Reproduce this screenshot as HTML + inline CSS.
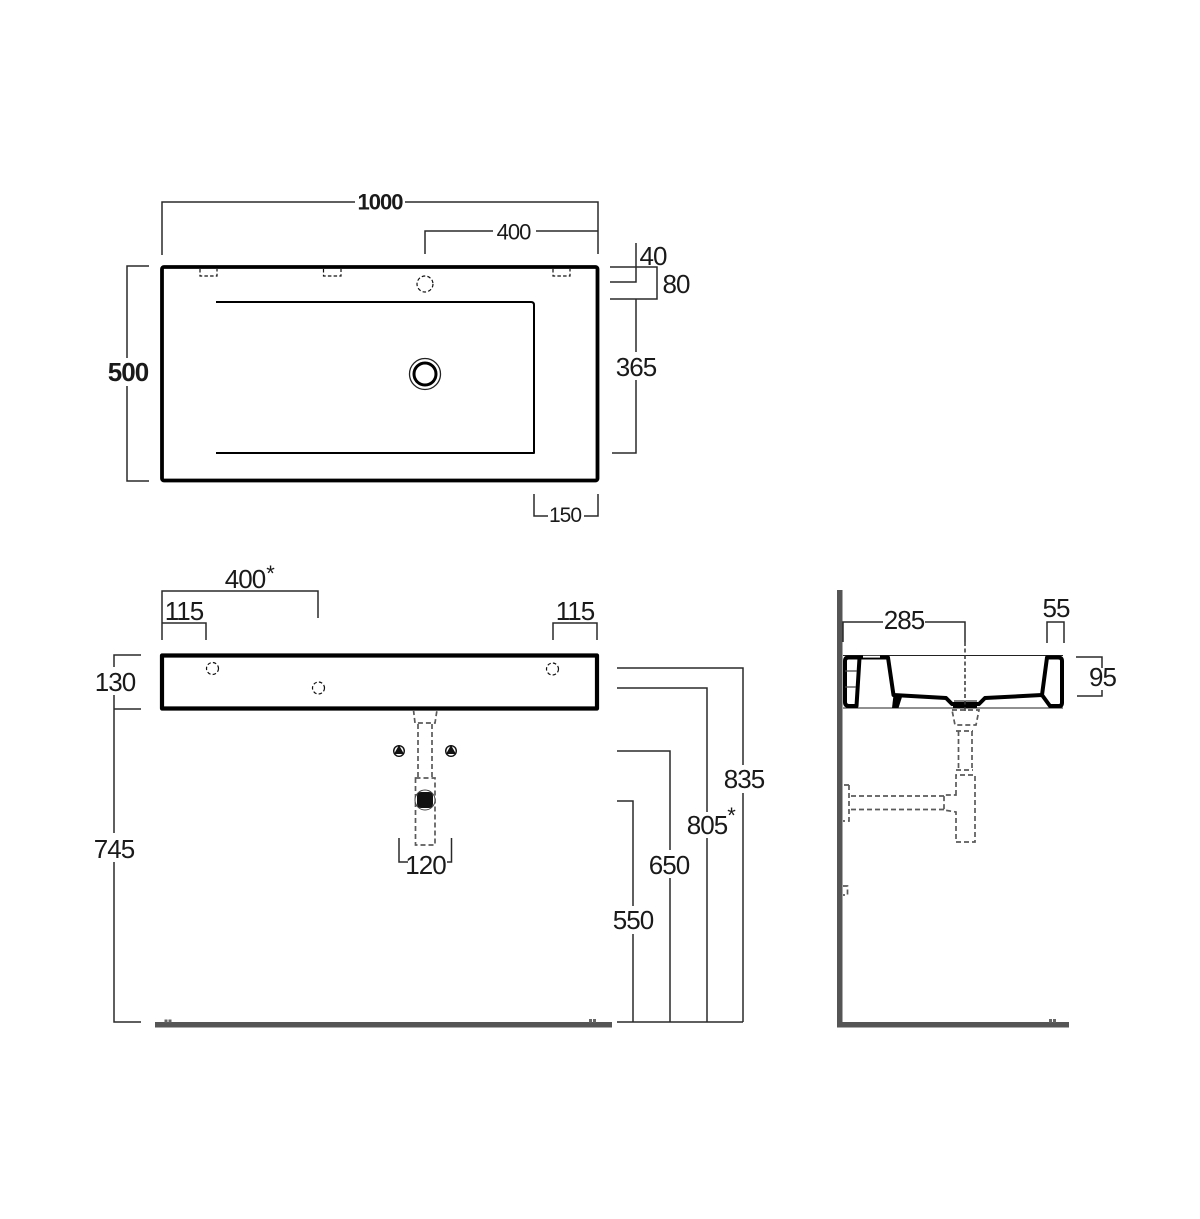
<!DOCTYPE html>
<html>
<head>
<meta charset="utf-8">
<style>
html,body{margin:0;padding:0;background:#fff}
svg{display:block}
text{font-family:"Liberation Sans",sans-serif;fill:#1a1a1a;text-anchor:middle;letter-spacing:-1px}
.d{stroke:#2a2a2a;stroke-width:1.500;fill:none}
.t{stroke:#000;fill:none;stroke-linejoin:round}
.g{stroke:#5a5a5a;stroke-width:1.700;fill:none;stroke-dasharray:5 3}
.k{stroke:#111;stroke-width:1.200;fill:none;stroke-dasharray:3.500 2.200}
</style>
</head>
<body>
<svg width="1200" height="1219" viewBox="0 0 1200 1219" xmlns="http://www.w3.org/2000/svg">
<rect width="1200" height="1219" fill="#fff"/>

<!-- TOP VIEW -->
<rect class="t" x="162" y="267" width="435.500" height="213.500" rx="2" stroke-width="3.800"/>
<path class="t" stroke-width="2" d="M216 302H531Q534 302 534 305V453H216"/>
<circle cx="425" cy="374" r="15.500" fill="none" stroke="#222" stroke-width="1.300"/>
<circle cx="425" cy="374" r="11" fill="none" stroke="#000" stroke-width="3"/>
<circle class="k" cx="425" cy="284" r="8"/>
<path class="k" d="M200 269V276H217V269"/>
<path class="k" d="M323.500 269V276H341V269"/>
<path class="k" d="M553 269V276H570V269"/>

<path class="d" d="M162 255V202H355M405 202H598V254"/>
<path class="d" d="M425 254V231H493M536 231H598"/>
<path class="d" d="M149 266H127V358M127 386V481H149"/>
<path class="d" d="M636 243V282H610M610 267H657V299H610M636 299V352M636 380V453H612"/>
<path class="d" d="M534 494V516H548M584 516H598V494"/>

<text x="380" y="209.500" font-size="22" font-weight="bold">1000</text>
<text x="513.500" y="239.500" font-size="22">400</text>
<text x="128" y="381" font-size="26" font-weight="bold">500</text>
<text x="653" y="265" font-size="26">40</text>
<text x="676" y="293" font-size="26">80</text>
<text x="636" y="376" font-size="26">365</text>
<text x="565" y="522" font-size="21">150</text>

<!-- FRONT VIEW -->
<rect class="t" x="162" y="655.500" width="435" height="53" stroke-width="4.200" stroke-linejoin="miter"/>
<circle class="k" cx="212.500" cy="668.500" r="6"/>
<circle class="k" cx="318.500" cy="688" r="6"/>
<circle class="k" cx="552.500" cy="669" r="6"/>

<path class="d" d="M162 640V591H318V618"/>
<path class="d" d="M162 623H206V640"/>
<path class="d" d="M553 640V623H597V640"/>
<path class="d" d="M141 655H114V667M114 695V833M114 862V1022H141M114 709H141"/>
<path class="d" d="M617 668H743V765M743 793V1022"/>
<path class="d" d="M617 688H707V812M707 838V1022"/>
<path class="d" d="M617 751H670V850M670 878V1022"/>
<path class="d" d="M617 801H633V906M633 934V1022"/>
<path class="d" d="M617 1022H743" stroke-width="1.800"/>

<!-- trap front -->
<path class="g" d="M413.500 710L415 723H435L437 710"/>
<path class="g" d="M418 724V777M432 724V777"/>
<rect class="g" x="415.500" y="778" width="19.500" height="67"/>
<circle cx="425" cy="800" r="10" fill="#fff" stroke="#444" stroke-width="1"/>
<rect x="417" y="792" width="16" height="16" rx="4" fill="#111"/>
<circle cx="399" cy="751" r="6" fill="#111"/>
<circle cx="399" cy="751" r="4.600" fill="#fff"/>
<path d="M399 745L404 754H394Z" fill="#111"/>
<circle cx="451" cy="751" r="6" fill="#111"/>
<circle cx="451" cy="751" r="4.600" fill="#fff"/>
<path d="M451 745L456 754H446Z" fill="#111"/>
<path class="d" d="M399 838V862H408M447 862H451.500V838"/>

<rect x="155" y="1022" width="457" height="5.500" fill="#555"/>
<rect x="164.500" y="1019.500" width="3" height="3" fill="#666"/>
<rect x="168.500" y="1019.500" width="3" height="3" fill="#666"/>
<rect x="589" y="1019" width="3" height="3.500" fill="#666"/>
<rect x="593" y="1019" width="3" height="3.500" fill="#666"/>

<text x="245" y="588" font-size="26">400</text>
<text x="270" y="581" font-size="22">*</text>
<text x="184" y="620" font-size="26">115</text>
<text x="575" y="620" font-size="26">115</text>
<text x="115" y="691" font-size="26">130</text>
<text x="114" y="858" font-size="26">745</text>
<text x="744" y="788" font-size="26">835</text>
<text x="707" y="834" font-size="26">805</text>
<text x="731" y="823" font-size="22">*</text>
<text x="669" y="874" font-size="26">650</text>
<text x="633" y="929" font-size="26">550</text>
<text x="425.500" y="874" font-size="26">120</text>

<!-- SIDE VIEW -->
<rect x="837" y="590" width="5.500" height="437" fill="#555"/>
<rect x="837" y="1022" width="232" height="5.500" fill="#555"/>
<rect x="1049" y="1019" width="3" height="3.500" fill="#666"/>
<rect x="1053" y="1019" width="3" height="3.500" fill="#666"/>

<path d="M843 655.500H1063M843 708H1063" stroke="#222" stroke-width="1.100" fill="none"/>
<path class="t" stroke-width="4" d="M859.500 658L856.500 706H849Q845 706 845 702V661Q845 657.500 848.500 657.500H888L893.500 695L946 698L952 704H979L985 698L1042 695L1047 657.500H1058Q1062 657.500 1062 661V703Q1062 706 1059 706H1050L1042 695"/>
<path d="M845 671H857M845 687H856" stroke="#444" stroke-width="1.300" fill="none"/>
<rect x="863" y="655.800" width="17" height="1.800" fill="#fff"/>
<path d="M893.500 695L892 708H898.500L902 697Z" fill="#000"/>
<path class="t" stroke-width="3.500" d="M953 706.500H977"/>
<path d="M954 701H977" stroke="#000" stroke-width="1" fill="none"/>

<path class="d" d="M843 642V622H883M925 622H965V642"/>
<path d="M965 642V712" stroke="#333" stroke-width="1.500" stroke-dasharray="4 2.500" fill="none"/>
<path class="d" d="M1047 643V622H1064V643"/>
<path class="d" d="M1076 657H1102V668M1102 690V696H1077"/>

<!-- trap side -->
<path class="g" d="M952 710H979L976 725H955Z"/>
<path class="g" d="M956 731H973M958.500 731V770M972 731V770M956 770H973"/>
<path class="g" d="M956 795V775H975V842H956V812L944 810V795Z"/>
<path class="g" d="M944 796H849M944 809.500H851"/>
<path class="g" d="M849 785H843M849 785V821H843"/>
<path class="g" d="M843 886H847.500V895H843"/>

<text x="904" y="629" font-size="26">285</text>
<text x="1056" y="617" font-size="26">55</text>
<text x="1102.500" y="686" font-size="26">95</text>
</svg>
</body>
</html>
